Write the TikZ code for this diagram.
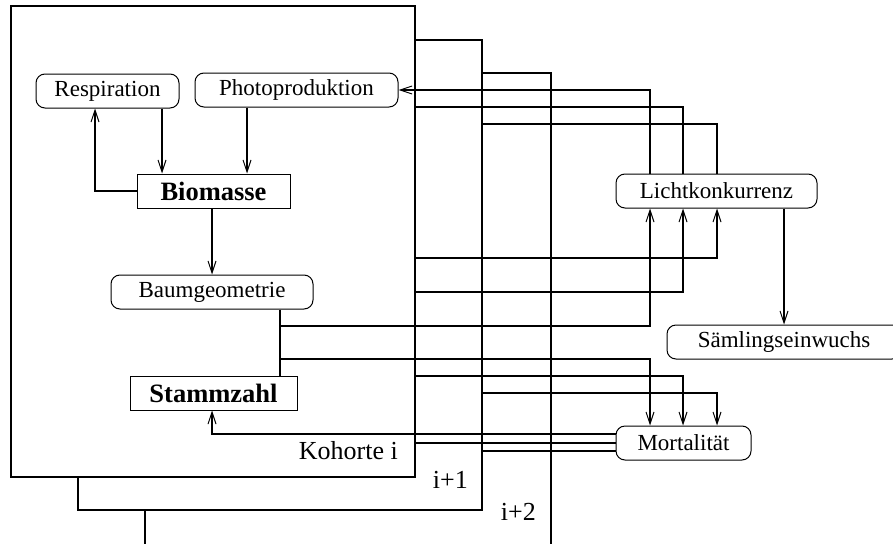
\documentclass[tikz,border=0pt]{standalone}
\usepackage{fontspec}
\setmainfont{Liberation Serif}
\usetikzlibrary{arrows.meta}
\begin{document}
\begin{tikzpicture}[x=1pt,y=-1pt,
  cohort/.style={draw,line width=1.6pt,fill=white},
  proc/.style={draw,line width=1pt,rounded corners=9pt,inner sep=0pt,
    font=\fontsize{23}{27}\selectfont,minimum height=34pt},
  state/.style={draw,line width=1pt,inner sep=0pt,
    font=\fontsize{26.5}{30}\bfseries\selectfont,minimum height=34pt},
  conn/.style={line width=1.1pt},
  arr/.style={conn,-{Straight Barb[length=12pt,width=8pt,line width=1pt]}},
  lab/.style={font=\fontsize{26}{30}\selectfont,inner sep=0pt,anchor=base east}]
\useasboundingbox (0,0) rectangle (893,543);
% cohort boxes
\draw[cohort] (145,73) rectangle (551,600);
\draw[cohort] (78,40) rectangle (482,510);
\draw[cohort] (11,6) rectangle (415,477);
% labels
\node[lab] (kohi) at (398,459) {Kohorte i};
\node[lab] (k1) at (468,488) {i+1};
\node[lab] (k2) at (536,520) {i+2};
% nodes
\node[proc,minimum width=143pt] (resp) at (107.5,91) {Respiration};
\node[proc,minimum width=203pt] (photo) at (296.5,90) {Photoproduktion};
\node[state,minimum width=153pt] (bio) at (213.5,191) {Biomasse\hspace{9pt}};
\node[proc,minimum width=202pt] (baum) at (212,292) {Baumgeometrie};
\node[state,minimum width=167pt] (stamm) at (213.5,393) {Stammzahl\hspace{9pt}};
\node[proc,minimum width=201pt] (licht) at (716.5,191) {Lichtkonkurrenz};
\node[proc,minimum width=234pt] (saml) at (784,342) {Sämlingseinwuchs};
\node[proc,minimum width=135pt] (mort) at (683.5,443) {Mortalität};
% helper coordinates
\coordinate (c95) at (95,0);
\coordinate (c162) at (162,0);
\coordinate (c247) at (247,0);
\coordinate (c212) at (212,0);
\coordinate (c280) at (280,0);
\coordinate (l1) at (650,0);
\coordinate (l2) at (683,0);
\coordinate (l3) at (717,0);
\coordinate (c784) at (784,0);
\coordinate (ei) at (415,0);
\coordinate (fi) at (482,0);
\coordinate (j1) at (280,326);
\coordinate (j2) at (280,359);
\coordinate (e1) at (415,292);
\coordinate (e2) at (415,258);
\coordinate (e3) at (415,376);
\coordinate (f1) at (482,393);
\coordinate (e4) at (415,107);
\coordinate (f2) at (482,124);
\coordinate (y434) at (0,434);
\coordinate (y451) at (0,451);
% connectors inside cohort i
\draw[arr] (resp.south -| c162) -- (bio.north -| c162);
\draw[arr] (photo.south -| c247) -- (bio.north -| c247);
\draw[arr] (bio.west) -| (resp.south -| c95);
\draw[arr] (bio.south -| c212) -- (baum.north -| c212);
\draw[conn] (baum.south -| c280) -- (stamm.north -| c280);
% to Lichtkonkurrenz
\draw[arr] (j1) -| (licht.south -| l1);
\draw[arr] (e1) -| (licht.south -| l2);
\draw[arr] (e2) -| (licht.south -| l3);
% to Mortalitaet
\draw[arr] (j2) -| (mort.north -| l1);
\draw[arr] (e3) -| (mort.north -| l2);
\draw[arr] (f1) -| (mort.north -| l3);
% from Lichtkonkurrenz
\draw[arr] (licht.north -| l1) |- (photo.east);
\draw[conn] (licht.north -| l2) |- (e4);
\draw[conn] (licht.north -| l3) |- (f2);
\draw[arr] (licht.south -| c784) -- (saml.north -| c784);
% from Mortalitaet
\draw[arr] (mort.west |- y434) -| (stamm.south -| c212);
\draw[conn] (mort.west) -- (mort.west -| ei);
\draw[conn] (mort.west |- y451) -- (fi |- y451);
\end{tikzpicture}
\end{document}
